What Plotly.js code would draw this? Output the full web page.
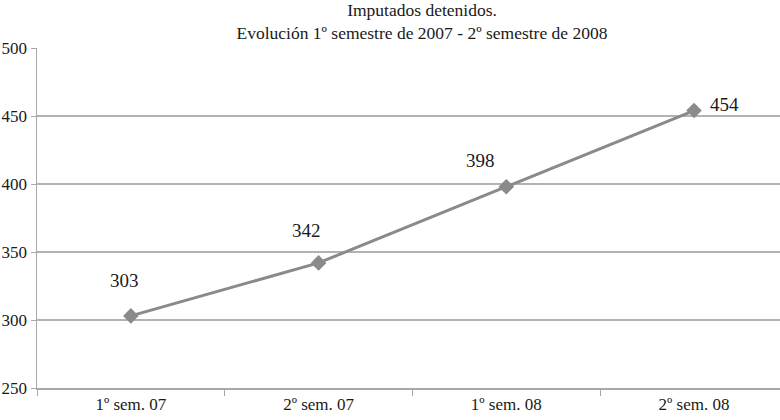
<!DOCTYPE html>
<html>
<head>
<meta charset="utf-8">
<script src="https://cdn.plot.ly/plotly-3.0.1.min.js"></script>
<style>html,body{margin:0;padding:0;background:#fff;}#chart{width:780px;height:420px;}</style>
</head>
<body>
<div id="chart"></div>
<script>
const categories = ["1º sem. 07", "2º sem. 07", "1º sem. 08", "2º sem. 08"];
const detenidos = [303, 342, 398, 454];
const yTicks = [250, 300, 350, 400, 450, 500];

const FONT = "Liberation Serif";
// per-label offsets (pixels) mimicking manually placed data labels
const labelOffsets = [[-6, 35], [-12, 32], [-26, 26], [30, 6]];

const trace = {
  x: categories,
  y: detenidos,
  type: "scatter",
  mode: "lines+markers",
  line: {color: "#8a8a8a", width: 3},
  marker: {symbol: "diamond", size: 12, color: "#8a8a8a"},
  hoverinfo: "skip"
};

const annotations = categories.map((c, i) => ({
  x: c, y: detenidos[i], xref: "x", yref: "y",
  text: String(detenidos[i]), showarrow: false,
  xshift: labelOffsets[i][0], yshift: labelOffsets[i][1],
  font: {family: FONT, size: 19, color: "#1a1a1a"}
}));

const layout = {
  width: 780, height: 420,
  margin: {l: 37, r: 0, t: 48, b: 32},
  paper_bgcolor: "#fff", plot_bgcolor: "#fff",
  showlegend: false,
  font: {family: FONT, size: 17, color: "#1a1a1a"},
  title: {
    text: "Imputados detenidos.<br>Evolución 1º semestre de 2007 - 2º semestre de 2008",
    font: {family: FONT, size: 17.5, color: "#1a1a1a"},
    x: 0.541, xanchor: "center", xref: "container",
    y: 0.962, yanchor: "middle", yref: "container"
  },
  xaxis: {
    type: "category",
    range: [-0.5, 3.458],
    showgrid: false, zeroline: false,
    showline: true, linecolor: "#a8a8a8", linewidth: 1.5,
    ticks: "outside", tickson: "boundaries", ticklen: 6, tickcolor: "#a8a8a8",
    tickfont: {family: FONT, size: 17, color: "#1a1a1a"},
    fixedrange: true
  },
  yaxis: {
    range: [250, 500],
    tickvals: yTicks,
    showgrid: true, gridcolor: "#b3b3b3", gridwidth: 1.2,
    zeroline: false,
    showline: true, linecolor: "#a8a8a8", linewidth: 1.5,
    ticks: "outside", ticklen: 5, tickcolor: "#a8a8a8",
    tickfont: {family: FONT, size: 17, color: "#1a1a1a"},
    fixedrange: true
  },
  annotations: annotations
};

Plotly.newPlot("chart", [trace], layout, {displayModeBar: false, staticPlot: true});
</script>
</body>
</html>
